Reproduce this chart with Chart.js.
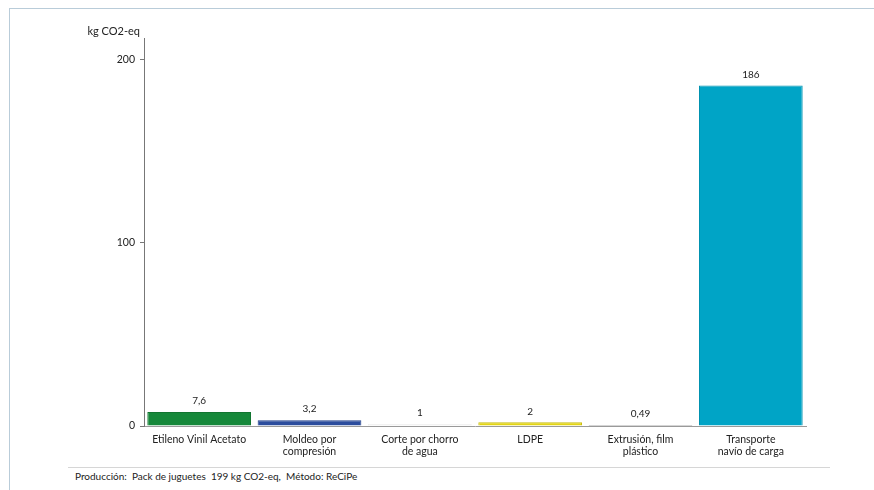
<!DOCTYPE html>
<html><head><meta charset="utf-8">
<script src="https://cdn.jsdelivr.net/npm/chart.js@4.4.1/dist/chart.umd.min.js"></script>
<style>
html,body{margin:0;padding:0;background:#fff;}
#wrap{position:relative;width:874px;height:490px;overflow:hidden;font-family:Lato,"Open Sans",sans-serif;}
#frame{position:absolute;left:9px;top:8px;width:900px;height:600px;border-top:1px solid #b9ccd9;border-left:1px solid #b9ccd9;}
#foot{position:absolute;left:68px;top:467px;width:762px;border-top:1px solid #d6d6d6;}
#foottxt{position:absolute;left:75px;top:470px;font-size:10px;color:#222;white-space:pre;}
canvas{position:absolute;left:0;top:0;}
</style></head>
<body><div id="wrap"><div id="frame"></div><div id="foot"></div>
<div id="foottxt">Producción:  Pack de juguetes  199 kg CO2-eq,  Método: ReCiPe</div>
<canvas id="c" width="874" height="490"></canvas></div>
<script>
const categories = [["Etileno Vinil Acetato"],["Moldeo por","compresión"],["Corte por chorro","de agua"],["LDPE"],["Extrusión, film","plástico"],["Transporte","navío de carga"]];
const values = [7.6, 3.2, 1, 2, 0.49, 186];
const valueLabels = ["7,6","3,2","1","2","0,49","186"];
const yTicks = [0, 100, 200];
const yTitle = "kg CO2-eq";
const colors = ["#16883a","#2b4c9d","#f0f0f0","#e2d414","#5a5a5a","#00a4c6"];
const borders = ["#127530","#23408a","#e0e0e0","#c9bc10","#444444","#0092b0"];

const FONT = 'Lato, "Open Sans", sans-serif';
const labelPlugin = {
  id:'vlabels',
  afterDatasetsDraw(chart){
    const ctx = chart.ctx;
    const meta = chart.getDatasetMeta(0);
    ctx.save();
    ctx.font = '10px ' + FONT;
    ctx.fillStyle = '#222';
    ctx.textAlign = 'center';
    ctx.textBaseline = 'bottom';
    meta.data.forEach((bar,i)=>{
      ctx.fillText(valueLabels[i], bar.x, bar.y - 6);
    });
    ctx.font = '11px ' + FONT;
    ctx.textAlign = 'right';
    ctx.textBaseline = 'middle';
    ctx.fillText(yTitle, 140, 31);
    ctx.restore();
  }
};

new Chart(document.getElementById('c'), {
  type:'bar',
  data:{labels:categories, datasets:[{data:values, backgroundColor:colors, borderColor:borders, borderWidth:1, barPercentage:0.94, categoryPercentage:1}]},
  options:{
    responsive:false, animation:false,
    layout:{padding:{left:0,right:68,top:38,bottom:0}},
    plugins:{legend:{display:false}, tooltip:{enabled:false}},
    scales:{
      x:{
        grid:{display:false, drawTicks:false},
        border:{display:true, color:'#9a9a9a', width:1},
        ticks:{font:{family:FONT,size:10.5}, color:'#222', padding:7, maxRotation:0, autoSkip:false},
        afterFit(s){ s.height = 64; }
      },
      y:{
        min:0, max:212,
        afterBuildTicks(s){ s.ticks = yTicks.map(v=>({value:v})); },
        grid:{drawOnChartArea:false, drawTicks:true, tickLength:4, color:'#777'},
        border:{display:true, color:'#777', width:1},
        ticks:{font:{family:FONT,size:10.5}, color:'#222', padding:5},
        afterFit(s){ s.width = 144; }
      }
    }
  },
  plugins:[labelPlugin]
});
</script></body></html>
